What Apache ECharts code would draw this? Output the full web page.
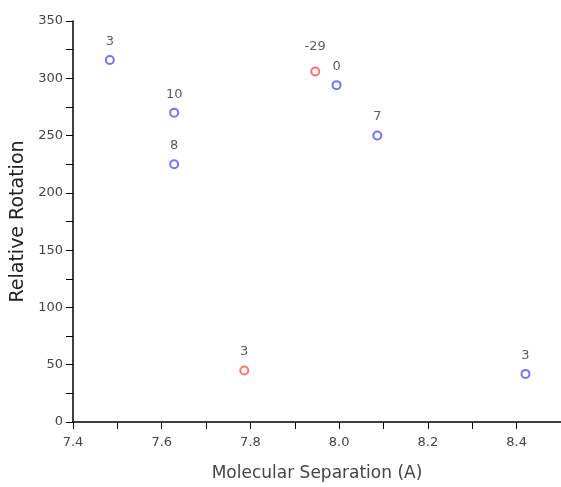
<!DOCTYPE html>
<html>
<head>
<meta charset="utf-8">
<script src="https://cdn.jsdelivr.net/npm/echarts@6/dist/echarts.min.js"></script>
<style>html,body{margin:0;padding:0;background:#fff;}#c{width:561px;height:487px;}</style>
</head>
<body>
<div id="c"></div>
<script>
// Blue series
const blueX = [7.483, 7.628, 7.628, 7.994, 8.086, 8.42];
const blueY = [316, 270, 225, 294, 250, 42];
const blueLabels = ['3', '10', '8', '0', '7', '3'];
// Red series
const redX = [7.786, 7.946];
const redY = [45, 306];
const redLabels = ['3', '-29'];
// Axis ticks
const xTicks = [7.4, 7.6, 7.8, 8.0, 8.2, 8.4];
const yTicks = [0, 50, 100, 150, 200, 250, 300, 350];

function build(xs, ys, labels) {
  return xs.map((x, i) => {
    const item = { value: [x, ys[i]], name: labels[i] };
    if (labels[i] === '-29') item.label = { distance: 13 };
    return item;
  });
}

const chart = echarts.init(document.getElementById('c'));
const font = 'DejaVu Sans';
const labelStyle = { show: true, position: 'top', distance: 7, formatter: p => p.name,
  fontSize: 13, color: '#333', fontFamily: font };
chart.setOption({
  animation: false,
  grid: { left: 73, top: 21, right: 0, bottom: 59 },
  xAxis: {
    type: 'value', min: 7.4, max: 8.5, interval: 0.2,
    name: 'Molecular Separation (A)', nameLocation: 'middle', nameGap: 43,
    nameTextStyle: { fontSize: 17, color: '#444', fontFamily: font },
    axisLine: { lineStyle: { color: '#000', width: 1.5 } },
    axisTick: { show: true, length: 7, inside: false, lineStyle: { color: '#000' } },
    minorTick: { show: true, splitNumber: 2, length: 7, lineStyle: { color: '#000' } },
    splitLine: { show: false },
    axisLabel: { fontSize: 13, color: '#444', fontFamily: font, margin: 14,
      showMaxLabel: false,
      formatter: v => xTicks.some(t => Math.abs(t - v) < 1e-6) ? v.toFixed(1) : '' }
  },
  yAxis: {
    type: 'value', min: 0, max: 350, interval: 50,
    name: 'Relative Rotation', nameLocation: 'middle', nameGap: 43,
    nameTextStyle: { fontSize: 19, color: '#222', fontFamily: font },
    axisLine: { show: true, lineStyle: { color: '#000', width: 1.5 } },
    axisTick: { show: true, length: 7, lineStyle: { color: '#000' } },
    minorTick: { show: true, splitNumber: 2, length: 7, lineStyle: { color: '#000' } },
    splitLine: { show: false },
    axisLabel: { fontSize: 13, color: '#444', fontFamily: font, margin: 10,
      formatter: v => yTicks.includes(v) ? String(v) : '' }
  },
  series: [
    {
      type: 'scatter', data: build(blueX, blueY, blueLabels),
      symbol: 'emptyCircle', symbolSize: 8,
      itemStyle: { color: '#5050ff', borderColor: '#5050ff', borderWidth: 1.5 },
      label: labelStyle
    },
    {
      type: 'scatter', data: build(redX, redY, redLabels),
      symbol: 'emptyCircle', symbolSize: 8,
      itemStyle: { color: '#ff5050', borderColor: '#ff5050', borderWidth: 1.5 },
      label: labelStyle
    }
  ]
});
</script>
</body>
</html>
